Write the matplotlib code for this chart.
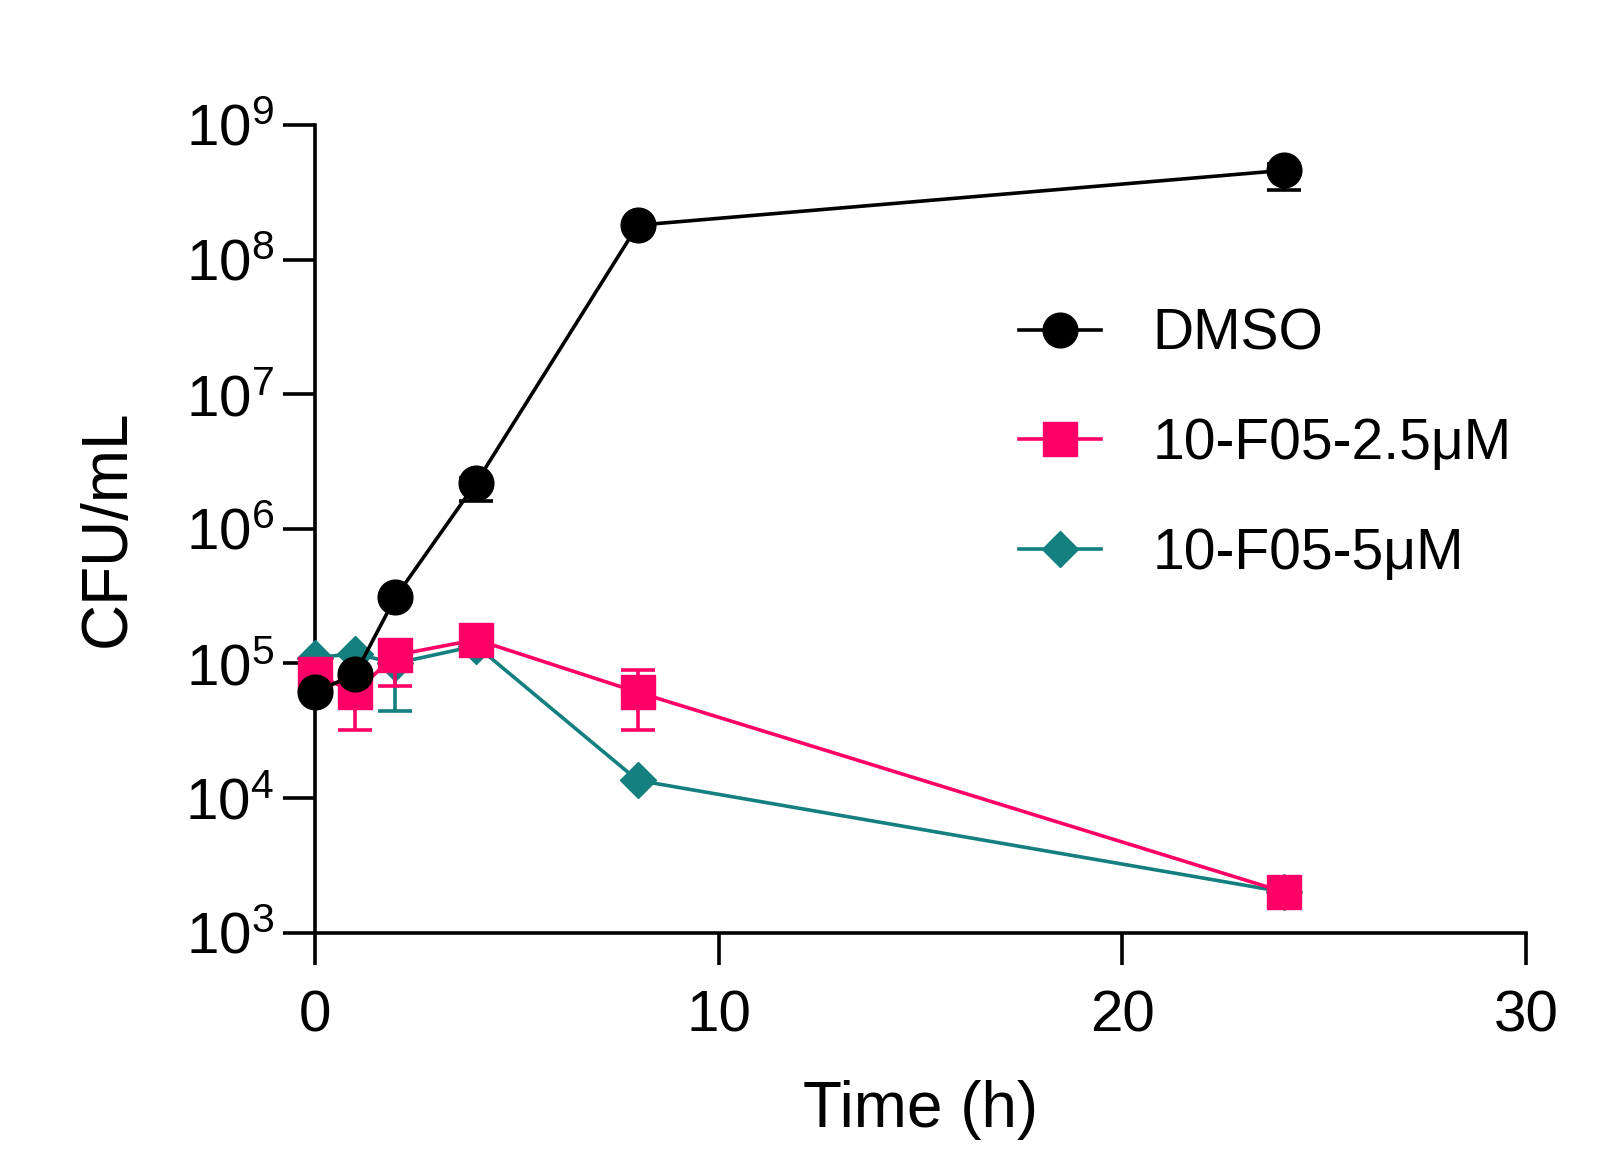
import matplotlib
matplotlib.use("Agg")
import matplotlib.pyplot as plt
from matplotlib.ticker import FixedLocator, LogFormatterSciNotation, NullLocator
import numpy as np

plt.rcParams['font.family'] = ['Liberation Sans', 'DejaVu Sans']
plt.rcParams['mathtext.fontset'] = 'custom'
plt.rcParams['mathtext.rm'] = 'Liberation Sans'
plt.rcParams['mathtext.it'] = 'Liberation Sans'

# time points (h)
time_h = [0, 1, 2, 4, 8, 24]

# CFU/mL, mean and lower/upper error (0 = no bar drawn)
dmso = [6.1e4, 8.3e4, 3.1e5, 2.2e6, 1.8e8, 4.6e8]
dmso_lo = [0, 0, 0, 0.6e6, 0, 1.3e8]
dmso_hi = [0, 0, 0, 0.2e6, 0, 0.5e8]

f05_25 = [8.3e4, 6.1e4, 1.15e5, 1.5e5, 6.1e4, 2.0e3]
f05_25_lo = [0, 2.9e4, 4.7e4, 0, 2.9e4, 0]
f05_25_hi = [0, 0.5e4, 0.2e5, 0, 2.8e4, 0]

f05_5 = [1.1e5, 1.18e5, 1.0e5, 1.35e5, 1.35e4, 2.0e3]
f05_5_lo = [0, 0, 5.6e4, 0, 0, 0]
f05_5_hi = [0, 0, 0.3e5, 0, 0, 0]

y_ticks = [1e3, 1e4, 1e5, 1e6, 1e7, 1e8, 1e9]
x_ticks = [0, 10, 20, 30]

labels = ["DMSO", "10-F05-2.5μM", "10-F05-5μM"]
colors = ["#000000", "#FF0066", "#137F7F"]

fig = plt.figure(figsize=(16.22, 11.57), dpi=100)
ax = fig.add_axes([0.194, 0.194, 0.747, 0.698])

lw = 2.6
series = [
    (f05_5, f05_5_lo, f05_5_hi, 'D', 18, colors[2], labels[2], 3),
    (f05_25, f05_25_lo, f05_25_hi, 's', 25, colors[1], labels[1], 4),
    (dmso, dmso_lo, dmso_hi, 'o', 25, colors[0], labels[0], 5),
]
handles = {}
for vals, lo, hi, mk, ms, col, lab, z in series:
    idx = [i for i in range(len(time_h)) if lo[i] > 0 or hi[i] > 0]
    ax.errorbar([time_h[i] for i in idx], [vals[i] for i in idx],
                yerr=[[lo[i] for i in idx], [hi[i] for i in idx]],
                fmt='none', ecolor=col, elinewidth=lw, capsize=12,
                capthick=lw, zorder=z)
    h, = ax.plot(time_h, vals, marker=mk, markersize=ms, color=col,
                 linewidth=lw, label=lab, zorder=z, clip_on=False)
    handles[lab] = h

ax.set_yscale('log')
ax.set_ylim(1e3, 1e9)
ax.set_xlim(0, 30)
ax.set_xticks(x_ticks)
ax.yaxis.set_major_locator(FixedLocator(y_ticks))
ax.yaxis.set_major_formatter(LogFormatterSciNotation())
ax.yaxis.set_minor_locator(NullLocator())

for s in ['top', 'right']:
    ax.spines[s].set_visible(False)
for s in ['left', 'bottom']:
    ax.spines[s].set_linewidth(2.6)

ax.tick_params(axis='both', which='major', direction='out', length=23,
               width=2.6, labelsize=42, pad=6)
ax.tick_params(axis='x', pad=18)

ax.set_xlabel("Time (h)", fontsize=46, labelpad=26)
ax.set_ylabel("CFU/mL", fontsize=46, labelpad=34)

fig.legend([handles[l] for l in labels], labels, loc='center left',
           bbox_to_anchor=(0.628, 0.616), frameon=False, fontsize=41,
           handlelength=1.45, handletextpad=0.9, labelspacing=0.98,
           borderpad=0, borderaxespad=0, markerscale=1.0)

fig.savefig("out.png", dpi=100)
